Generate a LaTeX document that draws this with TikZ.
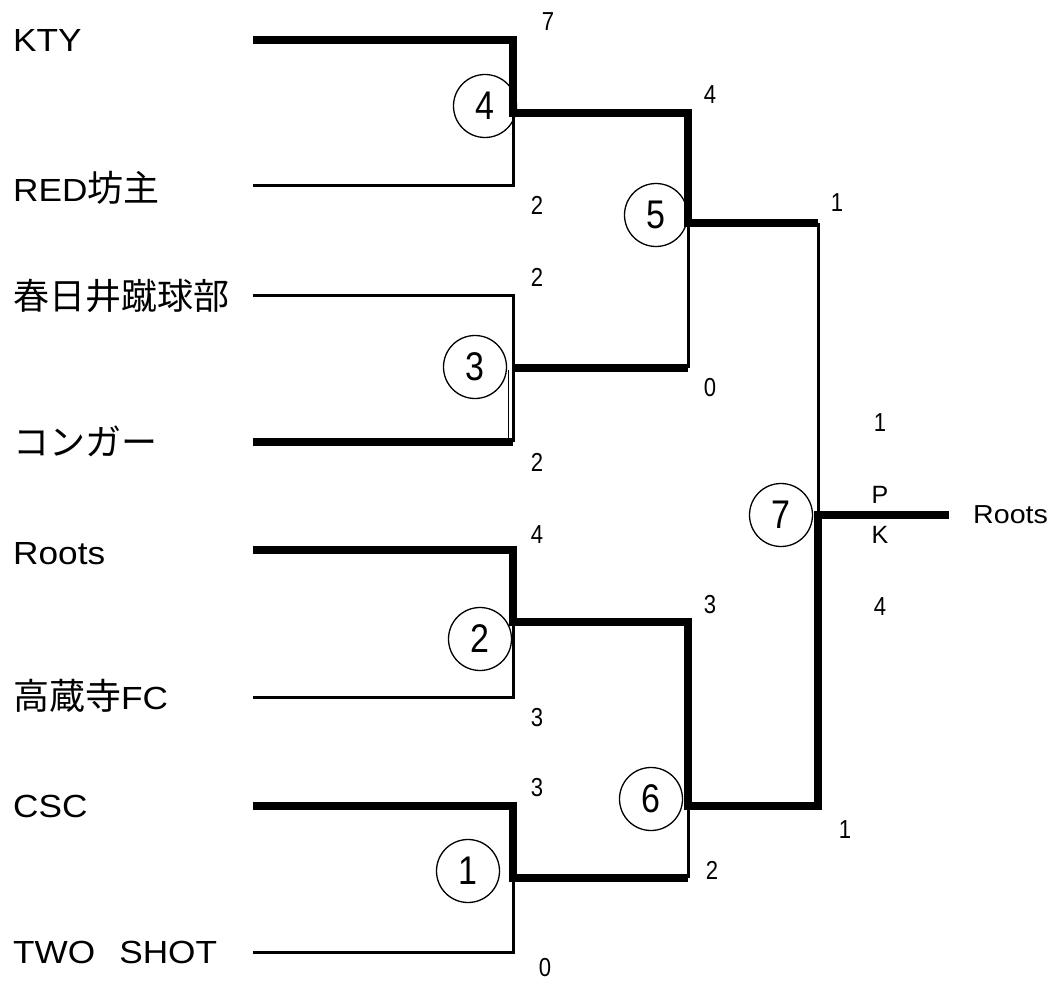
\documentclass[tikz,border=0pt]{standalone}
\usepackage{fontspec}
\setmainfont{Liberation Sans}
\newfontfamily\latf[FakeStretch=1.1]{Liberation Sans}
\newfontfamily\numf[FakeStretch=0.85]{Liberation Sans}
\newfontfamily\cjkf{Noto Sans CJK JP}
\newcommand\jp[1]{{\cjkf\fontsize{36}{38}\selectfont #1}}
\begin{document}
\begin{tikzpicture}[x=1pt,y=-1pt,
  team/.style={anchor=west,inner sep=0pt,font=\latf\fontsize{32}{34}\selectfont},
  score/.style={inner sep=0pt,font=\numf\fontsize{26}{28}\selectfont},
  circ/.style={draw,circle,line width=1.3pt,minimum size=63pt,inner sep=0pt,font=\numf\fontsize{40}{42}\selectfont},
  win/.style={line width=7.5pt},
  lose/.style={line width=3pt}]
\useasboundingbox (0,0) rectangle (1062,984);

% team names
\node[team] (t1) at (13,40) {KTY};
\node[team] (t2) at (13,188) {RED\jp{坊主}};
\node[team] (t3) at (13,296) {\jp{春日井蹴球部}};
\node[team] (t4) at (13,441) {\jp{コンガー}};
\node[team] (t5) at (13,554) {Roots};
\node[team] (t6) at (13,696) {\jp{高蔵寺}FC};
\node[team] (t7) at (13,806) {CSC};
\node[team] (t8) at (13,952) {TWO\hspace{24pt}SHOT};

% match circles
\node[circ] (c4) at (485,106) {4};
\node[circ] (c3) at (475,367) {3};
\node[circ] (c5) at (656,215) {5};
\node[circ] (c2) at (480,639) {2};
\node[circ] (c1) at (468,871) {1};
\node[circ] (c6) at (651,799) {6};
\node[circ] (c7) at (781,515) {7};

% bracket points
\coordinate (a1) at (253,40);
\coordinate (a2) at (253,186);
\coordinate (a3) at (253,295);
\coordinate (a4) at (253,442);
\coordinate (a5) at (253,550);
\coordinate (a6) at (253,697);
\coordinate (a7) at (253,806);
\coordinate (a8) at (253,952);
\coordinate (j4) at (513,113);
\coordinate (j3) at (513,368);
\coordinate (j2) at (513,622);
\coordinate (j1) at (513,878);
\coordinate (j5) at (688,223);
\coordinate (j6) at (688,806);
\coordinate (j7) at (818,515);
\coordinate (w) at (949,515);

% match 4
\draw[win] (a1) -| (j4) -- (j4 -| j5) -- (j5) -- (j5 -| j7);
\draw[lose] (j4) |- (a2);
% match 3
\draw[lose] (a3) -| (j3 |- a4);
\draw[line width=1.5pt] (508.5,370) -- (508.5,442);
\draw[win] (a4) -- (a4 -| j3);
\draw[win] (j3) -- (j3 -| j5);
\draw[lose] (j3 -| j5) -- (j5);
% match 2, 6, 7
\draw[win] (a5) -| (j2) -- (j2 -| j6) -- (j6) -- (j6 -| j7) -- (j7) -- (w);
\draw[lose] (j2) |- (a6);
% match 1
\draw[win] (a7) -| (j1) -- (j1 -| j6);
\draw[lose] (j1) |- (a8);
\draw[lose] (j1 -| j6) -- (j6);
% final
\draw[lose] (j5 -| j7) -- (j7);

% scores
\node[score] (s1) at (548,22) {7};
\node[score] (s2) at (537,205) {2};
\node[score] (s3) at (710,95) {4};
\node[score] (s4) at (837,203) {1};
\node[score] (s5) at (537,277) {2};
\node[score] (s6) at (710,388) {0};
\node[score] (s7) at (537,462) {2};
\node[score] (s8) at (880,423) {1};
\node[score,font=\fontsize{25}{27}\selectfont] (s9) at (880,495) {P};
\node[score,font=\fontsize{25}{27}\selectfont] (s10) at (880,535) {K};
\node[score] (s11) at (537,535) {4};
\node[score] (s12) at (710,605) {3};
\node[score] (s13) at (880,607) {4};
\node[score] (s14) at (537,718) {3};
\node[score] (s15) at (537,788) {3};
\node[score] (s16) at (845,830) {1};
\node[score] (s17) at (712,870) {2};
\node[score] (s18) at (545,968) {0};

\node[anchor=west,inner sep=0pt,font=\latf\fontsize{26}{28}\selectfont] (champ) at (973,515) {Roots};
\end{tikzpicture}
\end{document}
